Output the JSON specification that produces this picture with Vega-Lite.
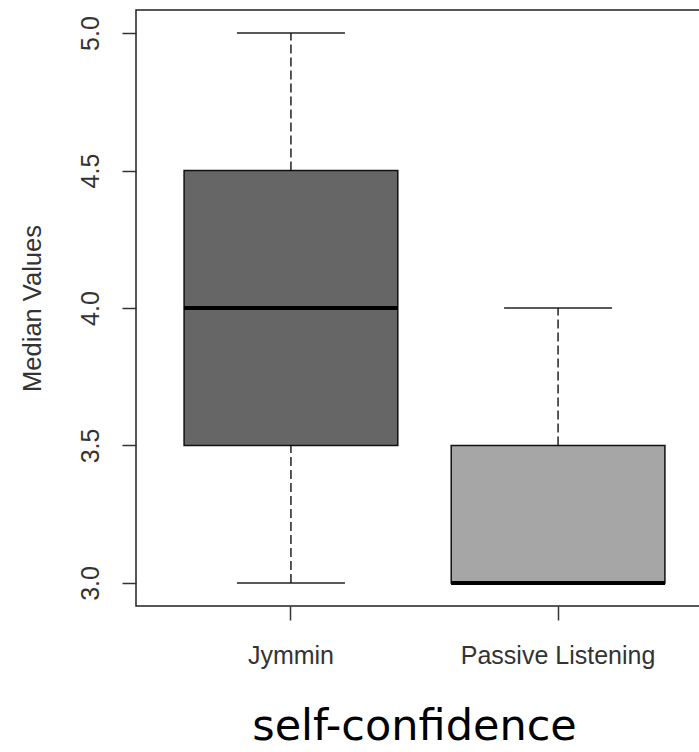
{
  "$schema": "https://vega.github.io/schema/vega-lite/v6.json",
  "width": 577,
  "height": 596,
  "autosize": {"type": "none"},
  "padding": {"left": 136, "top": 10, "right": 0, "bottom": 146},
  "background": "white",
  "config": {
    "view": {"stroke": "#222222", "strokeWidth": 1.5},
    "axis": {"labelFont": "Liberation Sans", "titleFont": "Liberation Sans", "labelColor": "#333333", "titleColor": "#333333", "tickColor": "#333333", "tickWidth": 1.5, "grid": false, "domain": false, "labelLimit": 0}
  },
  "data": {
    "values": [
      {"group": "Jymmin", "lower": 3.0, "q1": 3.5, "median": 4.0, "q3": 4.5, "upper": 5.0},
      {"group": "Passive Listening", "lower": 3.0, "q1": 3.0, "median": 3.0, "q3": 3.5, "upper": 4.0}
    ]
  },
  "encoding": {
    "x": {
      "field": "group",
      "type": "nominal",
      "sort": null,
      "scale": {"paddingInner": 0.2, "paddingOuter": 0.18},
      "axis": {
        "labelAngle": 0,
        "labelFontSize": 25,
        "labelPadding": 23,
        "labelBaseline": "top",
        "tickSize": 14,
        "title": "self-confidence",
        "titleFont": "DejaVu Sans",
        "titleFontSize": 43,
        "titleFontWeight": "normal",
        "titleColor": "#000000",
        "titleX": 278,
        "titleY": 133,
        "titleBaseline": "alphabetic",
        "titleAlign": "center"
      }
    }
  },
  "layer": [
    {
      "mark": {"type": "rule", "strokeDash": [9, 4], "strokeWidth": 1.5, "color": "#222222"},
      "encoding": {
        "y": {"field": "q3", "type": "quantitative", "scale": {"domain": [2.916, 5.084], "nice": false, "zero": false},
          "axis": {"values": [3.0, 3.5, 4.0, 4.5, 5.0], "format": ".1f", "labelAngle": -90, "labelAlign": "center", "labelBaseline": "bottom", "labelFontSize": 25, "labelPadding": 19, "tickSize": 14,
            "title": "Median Values", "titleFontSize": 25.5, "titleFontWeight": "normal", "titleAngle": -90, "titleX": -104, "titleY": 298, "titleAlign": "center", "titleBaseline": "middle"}},
        "y2": {"field": "upper"}
      }
    },
    {
      "mark": {"type": "rule", "strokeDash": [9, 4], "strokeWidth": 1.5, "color": "#222222"},
      "encoding": {
        "y": {"field": "lower", "type": "quantitative"},
        "y2": {"field": "q1"}
      }
    },
    {
      "mark": {"type": "tick", "size": 108, "thickness": 1.5, "color": "#222222", "opacity": 1},
      "encoding": {"y": {"field": "upper", "type": "quantitative"}}
    },
    {
      "mark": {"type": "tick", "size": 108, "thickness": 1.5, "color": "#222222", "opacity": 1},
      "encoding": {"y": {"field": "lower", "type": "quantitative"}}
    },
    {
      "mark": {"type": "bar", "stroke": "#111111", "strokeWidth": 1.5, "opacity": 1},
      "encoding": {
        "y": {"field": "q1", "type": "quantitative"},
        "y2": {"field": "q3"},
        "fill": {"field": "group", "type": "nominal", "scale": {"domain": ["Jymmin", "Passive Listening"], "range": ["#666666", "#a6a6a6"]}, "legend": null}
      }
    },
    {
      "mark": {"type": "tick", "size": 214, "thickness": 4, "color": "#000000", "opacity": 1},
      "encoding": {"y": {"field": "median", "type": "quantitative"}}
    }
  ]
}
